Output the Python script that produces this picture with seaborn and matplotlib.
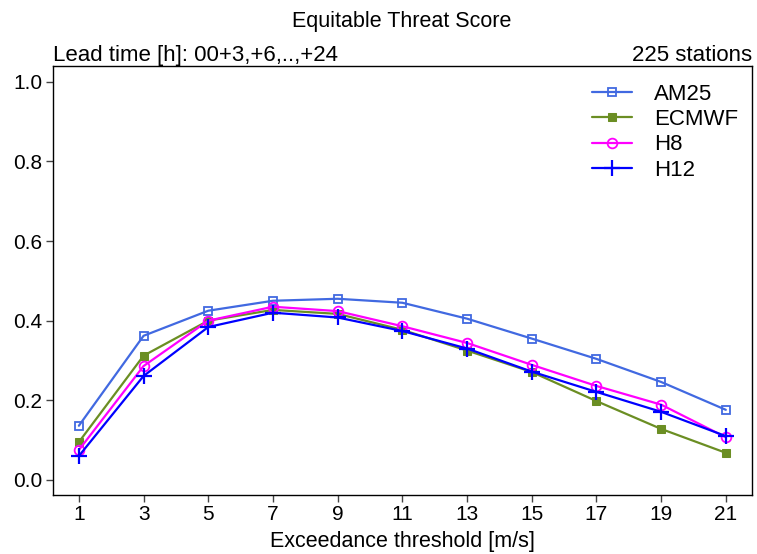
import matplotlib
matplotlib.use("Agg")
import matplotlib.pyplot as plt
import pandas as pd
import seaborn as sns

thresholds = [1, 3, 5, 7, 9, 11, 13, 15, 17, 19, 21]
am25 = [0.136, 0.362, 0.425, 0.450, 0.455, 0.445, 0.405, 0.355, 0.304, 0.246, 0.176]
ecmwf = [0.095, 0.312, 0.400, 0.427, 0.417, 0.377, 0.325, 0.271, 0.198, 0.128, 0.068]
h8 = [0.075, 0.286, 0.400, 0.435, 0.424, 0.386, 0.344, 0.289, 0.236, 0.189, 0.107]
h12 = [0.060, 0.261, 0.384, 0.420, 0.408, 0.374, 0.330, 0.272, 0.221, 0.171, 0.110]

models = ["AM25", "ECMWF", "H8", "H12"]
scores = [am25, ecmwf, h8, h12]
colors = {"AM25": "#4169E1", "ECMWF": "#6B8E23", "H8": "#FF00FF", "H12": "#0000FF"}
marker_style = {
    "AM25": dict(marker="s", mfc="none", ms=6, mew=1.3),
    "ECMWF": dict(marker="s", ms=6),
    "H8": dict(marker="o", mfc="none", ms=7, mew=1.3),
    "H12": dict(marker="+", ms=11, mew=1.6),
}

df = pd.DataFrame(
    [(m, t, v) for m, vals in zip(models, scores) for t, v in zip(thresholds, vals)],
    columns=["model", "threshold", "ets"],
)

sns.set_style("ticks")
plt.rcParams["font.family"] = ["Liberation Sans", "DejaVu Sans"]
plt.rcParams["text.color"] = "black"
plt.rcParams["xtick.color"] = "#444444"
plt.rcParams["ytick.color"] = "#444444"
plt.rcParams["xtick.labelcolor"] = "black"
plt.rcParams["ytick.labelcolor"] = "black"
plt.rcParams["axes.labelcolor"] = "black"
plt.rcParams["axes.edgecolor"] = "black"

fig = plt.figure(figsize=(7.57, 5.54), dpi=100)
ax = fig.add_axes([0.070, 0.1065, 0.923, 0.7745])

for m in models:
    sub = df[df["model"] == m]
    sns.lineplot(data=sub, x="threshold", y="ets", ax=ax, color=colors[m],
                 mec=colors[m], label=m, lw=1.6, **marker_style[m])

ax.set_xlim(0.2, 21.8)
ax.set_ylim(-0.038, 1.04)
ax.set_xticks(thresholds)
ax.set_yticks([0.0, 0.2, 0.4, 0.6, 0.8, 1.0])
ax.set_yticklabels(["0.0", "0.2", "0.4", "0.6", "0.8", "1.0"])
ax.tick_params(labelsize=15, length=5, width=1, direction="out", pad=2.5)
ax.set_xlabel("Exceedance threshold [m/s]", fontsize=15.5, labelpad=5)
ax.set_ylabel("")
for s in ax.spines.values():
    s.set_linewidth(1)

ax.text(0.0, 1.0, "Lead time [h]: 00+3,+6,..,+24", transform=ax.transAxes,
        ha="left", va="bottom", fontsize=16)
ax.text(1.0, 1.0, "225 stations", transform=ax.transAxes,
        ha="right", va="bottom", fontsize=16)
fig.text(0.531, 0.962, "Equitable Threat Score", ha="center", va="center", fontsize=15.5)

leg = ax.legend(loc="upper right", frameon=False, fontsize=16, handlelength=1.8,
                handletextpad=1.0, borderaxespad=0.2, labelspacing=0.2,
                bbox_to_anchor=(1.0, 0.99))

fig.savefig("out.png", dpi=100)
